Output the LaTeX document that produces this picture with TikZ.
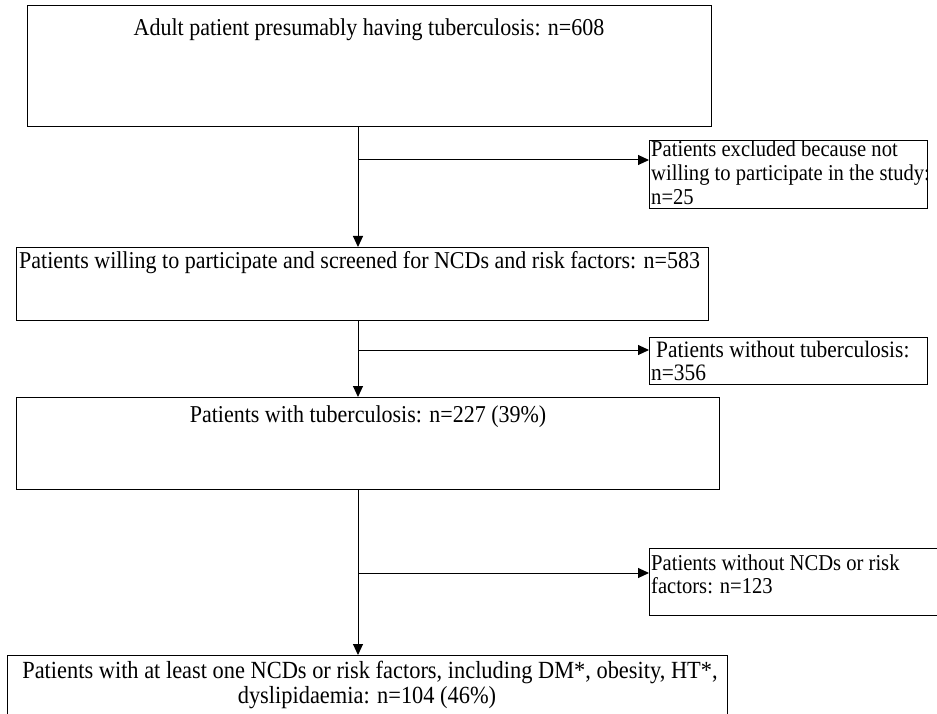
\documentclass[tikz,border=0pt]{standalone}
\usepackage{fontspec}
\setmainfont{Liberation Serif}
\usetikzlibrary{arrows.meta}
\newcommand{\tallt}[1]{\scalebox{1}[1.1]{#1}}
\tikzset{
  boxnode/.style={draw=black, line width=1.4pt, fill=white, inner sep=0pt, anchor=north west},
  txt/.style={inner sep=0pt, font=\fontsize{22}{26}\selectfont},
  stxt/.style={inner sep=0pt, font=\fontsize{20.6}{24}\selectfont},
  conn/.style={draw=black, line width=1pt},
  arr/.style={conn, -{Triangle[length=11pt,width=10pt]}},
}
\begin{document}
\begin{tikzpicture}[x=1pt,y=-1pt]
\useasboundingbox (0,0) rectangle (937,714);
\fill[white] (0,0) rectangle (937,714);
\clip (0,0) rectangle (937,714);
% main boxes
\node[boxnode, minimum width=684pt, minimum height=121pt] (b1) at (27,5) {};
\node[boxnode, minimum width=692pt, minimum height=73pt] (b2) at (16,247) {};
\node[boxnode, minimum width=703pt, minimum height=92pt] (b3) at (16,397) {};
\node[boxnode, minimum width=720pt, minimum height=80pt] (b4) at (7,655) {};
% side boxes
\node[boxnode, minimum width=278pt, minimum height=68pt] (e1) at (649,140) {};
\node[boxnode, minimum width=278pt, minimum height=47pt] (e2) at (649,337) {};
\node[boxnode, minimum width=300pt, minimum height=67pt] (e3) at (649,548) {};
% texts
\node[txt, anchor=base] (t1) at (369,36) {\tallt{Adult patient presumably having tuberculosis: n=608}};
\node[txt, anchor=base west] (t2) at (19,268) {\tallt{Patients willing to participate and screened for NCDs and risk factors: n=583}};
\node[txt, anchor=base] (t3) at (368,422) {\tallt{Patients with tuberculosis: n=227 (39\%)}};
\node[txt, anchor=base, font=\fontsize{22.4}{26}\selectfont] (t4a) at (370,678) {\tallt{Patients with at least one NCDs or risk factors, including DM*, obesity, HT*,}};
\node[txt, anchor=base, font=\fontsize{22.4}{26}\selectfont] (t4b) at (367,703) {\tallt{dyslipidaemia: n=104 (46\%)}};
\node[stxt, anchor=base west] (u1) at (651,157) {\tallt{Patients excluded because not}};
\node[stxt, anchor=base west] (u2) at (651,181) {\tallt{willing to participate in the study:}};
\node[stxt, anchor=base west] (u3) at (651,205) {\tallt{n=25}};
\node[stxt, anchor=base west, font=\fontsize{21.4}{24}\selectfont] (v1) at (656,357) {\tallt{Patients without tuberculosis:}};
\node[stxt, anchor=base west, font=\fontsize{21.4}{24}\selectfont] (v2) at (651,380) {\tallt{n=356}};
\node[stxt, anchor=base west] (w1) at (651,570) {\tallt{Patients without NCDs or risk}};
\node[stxt, anchor=base west] (w2) at (651,593) {\tallt{factors: n=123}};
% junctions
\coordinate (j1) at (358,160);
\coordinate (j2) at (358,350);
\coordinate (j3) at (358,573);
% connectors
\draw[arr] (j1 |- b1.south) -- (j1 |- b2.north);
\draw[arr] (j1) -- (j1 -| e1.west);
\draw[arr] (j2 |- b2.south) -- (j2 |- b3.north);
\draw[arr] (j2) -- (j2 -| e2.west);
\draw[arr] (j3 |- b3.south) -- (j3 |- b4.north);
\draw[arr] (j3) -- (j3 -| e3.west);
\end{tikzpicture}
\end{document}
